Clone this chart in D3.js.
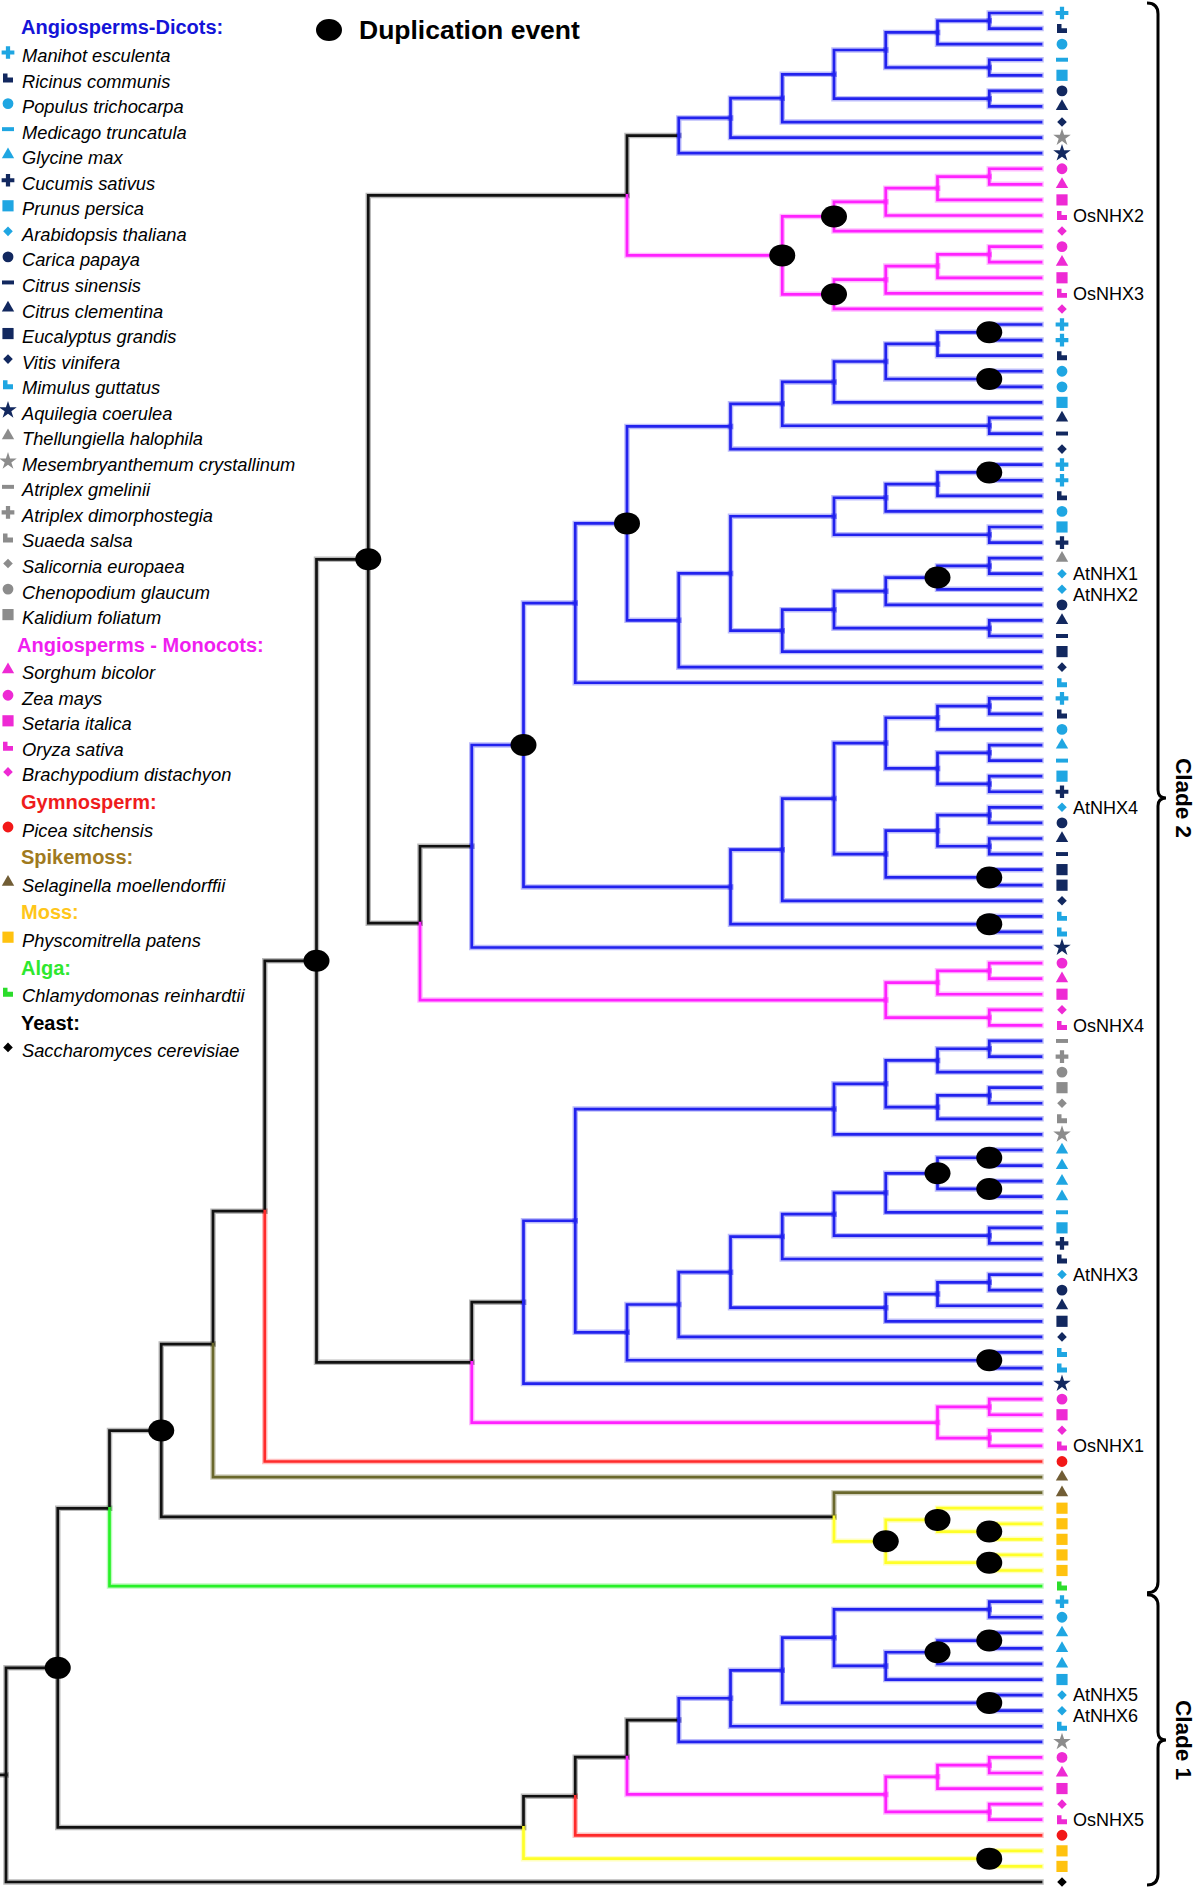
<!DOCTYPE html>
<html><head><meta charset="utf-8">
<script src="https://cdn.jsdelivr.net/npm/d3@7"></script>
<style>body{margin:0;background:#fff}svg{display:block}</style>
</head><body>
<svg id="c" width="1200" height="1892"></svg>
<script>
// ---------- DATA ----------
// Topology pieces (Newick). Tip numbers index tipSpecies (1-based).
// '*' marks a duplication event on the node, 'k' marks a black stem.
const nwTopDicots  = "(((((((1,2),3),(4,5)),(6,7)),8),9),10)k";
const nwMonocotsA  = "(((((11,12),13),14),15)*,((((16,17),18),19),20)*)*";
const nwDicotsB1   = "((((((21,22)*,23),(24,25)*),26),(27,28)),29)";
const nwDicotsB2   = "((((((30,31)*,32),33),(34,35)),(((((36,37),38)*,39),(40,41)),42)),43)";
const nwDicotsC    = "((((((45,46),47),((48,49),(50,51))),(((52,53),(54,55)),(56,57)*)),58),(59,60)*)";
const nwMonocotsB  = "(((62,63),64),(65,66))";
const nwHalophytes = "((((67,68),69),((70,71),72)),73)";
const nwDicotsD    = "((((((((74,75)*,(76,77)*)*,78),(79,80)),81),(((82,83),84),85)),86),(87,88)*)";
const nwMonocotsC  = "((90,91),(92,93))";
const nwMoss       = "(96,((97,(98,99)*)*,(100,101)*)*)";
const nwClade1     = "((((((((103,104),(((105,106)*,107)*,108)),(109,110)*),111),112)k,(((113,114),115),(116,117))),118),(119,120)*)";

const tipSpecies = [
  "Mes","Rco","Ptr","Mtr","Ppe","Cpa","Ccl","Vvi","Mcr","Aco",
  "Zma","Sbi","Sit","Osa","Bdi","Zma","Sbi","Sit","Osa","Bdi",
  "Mes","Mes","Rco","Ptr","Ptr","Ppe","Ccl","Csi","Vvi",
  "Mes","Mes","Rco","Ptr","Ppe","Csa","Tha","Ath","Ath","Cpa","Ccl","Csi","Egr","Vvi","Mgu",
  "Mes","Rco","Ptr","Gma","Mtr","Ppe","Csa","Ath","Cpa","Ccl","Csi","Egr","Egr","Vvi","Mgu","Mgu","Aco",
  "Zma","Sbi","Sit","Bdi","Osa",
  "Agm","Adi","Cgl","Kfo","Seu","Ssa","Mcr",
  "Gma","Gma","Gma","Gma","Mtr","Ppe","Csa","Rco","Ath","Cpa","Ccl","Egr","Vvi","Mgu","Mgu","Aco",
  "Zma","Sit","Bdi","Osa","Psi","Smo","Smo","Ppa","Ppa","Ppa","Ppa","Ppa","Cre",
  "Mes","Ptr","Gma","Gma","Gma","Ppe","Ath","Ath","Mgu","Mcr","Zma","Sbi","Sit","Bdi","Osa","Psi","Ppa","Ppa","Sce"
];

const labelTips  = [14, 19, 37, 38, 52, 66, 82, 93, 109, 110, 117];
const labelTexts = ["OsNHX2","OsNHX3","AtNHX1","AtNHX2","AtNHX4","OsNHX4","AtNHX3","OsNHX1","AtNHX5","AtNHX6","OsNHX5"];

const speciesCodes  = ["Mes","Rco","Ptr","Mtr","Gma","Csa","Ppe","Ath","Cpa","Csi","Ccl","Egr","Vvi","Mgu","Aco","Tha","Mcr","Agm","Adi","Ssa","Seu","Cgl","Kfo",
                       "Sbi","Zma","Sit","Osa","Bdi","Psi","Smo","Ppa","Cre","Sce"];
const speciesNames  = ["Manihot esculenta","Ricinus communis","Populus trichocarpa","Medicago truncatula","Glycine max","Cucumis sativus","Prunus persica","Arabidopsis thaliana","Carica papaya","Citrus sinensis","Citrus clementina","Eucalyptus grandis","Vitis vinifera","Mimulus guttatus","Aquilegia coerulea","Thellungiella halophila","Mesembryanthemum crystallinum","Atriplex gmelinii","Atriplex dimorphostegia","Suaeda salsa","Salicornia europaea","Chenopodium glaucum","Kalidium foliatum",
                       "Sorghum bicolor","Zea mays","Setaria italica","Oryza sativa","Brachypodium distachyon","Picea sitchensis","Selaginella moellendorffii","Physcomitrella patens","Chlamydomonas reinhardtii","Saccharomyces cerevisiae"];
const speciesShapes = ["cross","L","circle","dash","triangle","cross","square","diamond","circle","dash","triangle","square","diamond","L","star","triangle","star","dash","cross","L","diamond","circle","square",
                       "triangle","circle","square","L","diamond","circle","triangle","square","L","diamond"];
const speciesShades = ["light","dark","light","light","light","dark","light","light","dark","dark","dark","dark","dark","light","dark","gray","gray","gray","gray","gray","gray","gray","gray",
                       "mag","mag","mag","mag","mag","red","olive","gold","green","black"];
const speciesGroups = [0,0,0,0,0,0,0,0,0,0,0,0,0,0,0,0,0,0,0,0,0,0,0, 1,1,1,1,1, 2,3,4,5,6];

const groupTitles      = ["Angiosperms-Dicots:","Angiosperms - Monocots:","Gymnosperm:","Spikemoss:","Moss:","Alga:","Yeast:"];
const groupTitleColors = ["#1414d8","#f01ef0","#ef1c1c","#a07a1e","#ffc61a","#2ee82e","#000000"];
const groupLineColors  = ["#2222ee","#ff22ff","#ff2a2a","#6a682c","#ffff28","#28f028","#111111"];

const shadeNames  = ["light","dark","gray","mag","red","olive","gold","green","black"];
const shadeColors = ["#1fa6e2","#12285f","#8c8c8c","#ee2ad4","#f21818","#715d35","#ffc20f","#2bdc2b","#000000"];

// ---------- HELPERS ----------
const FONT = "'Liberation Sans', Arial, sans-serif";
const shadeColor = s => shadeColors[shadeNames.indexOf(s)];
const spIdx = code => speciesCodes.indexOf(code);

function parseNewick(s) {
  let i = 0;
  function readLabel() { let l = ""; while (i < s.length && !"(),".includes(s[i])) l += s[i++]; return l; }
  function node() {
    if (s[i] === "(") {
      i++;
      const children = [node()];
      while (s[i] === ",") { i++; children.push(node()); }
      i++;
      return { children, label: readLabel() };
    }
    return { tip: +readLabel(), label: "" };
  }
  return node();
}

const symL = { draw(ctx, size) {
  const w = Math.sqrt(size), h = w * 0.9, x0 = -w / 2, y0 = -h / 2;
  ctx.moveTo(x0, y0); ctx.lineTo(x0 + w * 0.45, y0); ctx.lineTo(x0 + w * 0.45, y0 + h * 0.45);
  ctx.lineTo(x0 + w, y0 + h * 0.45); ctx.lineTo(x0 + w, y0 + h); ctx.lineTo(x0, y0 + h); ctx.closePath();
}};
const symDash = { draw(ctx, size) { const w = Math.sqrt(size) * 1.2, h = w * 0.33; ctx.rect(-w / 2, -h / 2, w, h); } };
const symDiamond = { draw(ctx, size) { const r = Math.sqrt(size / 2); ctx.moveTo(0, -r); ctx.lineTo(r, 0); ctx.lineTo(0, r); ctx.lineTo(-r, 0); ctx.closePath(); } };
const shapeTypes = { cross: d3.symbolCross, L: symL, circle: d3.symbolCircle, dash: symDash, triangle: d3.symbolTriangle,
                     square: d3.symbolSquare, diamond: symDiamond, star: d3.symbolStar };
const shapeSizes = { cross: 90, L: 100, circle: 92, dash: 100, triangle: 66, square: 125, diamond: 46, star: 95 };
const symbolPath = shape => d3.symbol().type(shapeTypes[shape]).size(shapeSizes[shape])();

// ---------- TREE ----------
const nwB   = `((${nwDicotsB1},${nwDicotsB2})*,44)`;
const nwD   = `((${nwB},${nwDicotsC})*,61)k`;
const nwE   = `(${nwD},${nwMonocotsB})`;
const nwA   = `(${nwTopDicots},${nwMonocotsA})`;
const nwH13 = `(${nwA},${nwE})*`;
const nwF   = `(((${nwHalophytes},${nwDicotsD}),89)k,${nwMonocotsC})`;
const nwH14 = `(${nwH13},${nwF})*`;
const nwRoot = `((((((${nwH14},94),95),${nwMoss})*,102),${nwClade1})*,121)`;

const root = d3.hierarchy(parseNewick(nwRoot), d => d.children);
d3.cluster().size([1, 1]).separation(() => 1)(root);

const nTips = tipSpecies.length;
const tipStep = (1882 - 13) / (nTips - 1);
const yPos = d3.scaleLinear().domain([0, 1]).range([13 - tipStep / 2, 1882 + tipStep / 2]);
const xPos = d3.scaleLinear().domain([0, 1]).range([6, 1041]);
const BLACK = "#111111";

root.eachAfter(n => {
  if (!n.children) {
    n.sp = spIdx(tipSpecies[n.data.tip - 1]);
    n.group = speciesGroups[n.sp];
    n.color = groupLineColors[n.group];
  } else {
    const groups = new Set(n.leaves().map(l => l.group));
    n.color = (n.data.label.includes("k") || groups.size > 1) ? BLACK : groupLineColors[[...groups][0]];
  }
});

const svg = d3.select("#c");
const linkPath = l => `M${xPos(l.source.y)},${yPos(l.source.x)}V${yPos(l.target.x)}H${xPos(l.target.y)}`;
const links = root.links();

const gHalo = svg.append("g").attr("fill", "none").attr("stroke-linecap", "square");
gHalo.selectAll("path").data(links).join("path")
  .attr("d", linkPath)
  .attr("stroke", d => d.target.color === BLACK ? "#808080" : d.target.color)
  .attr("stroke-opacity", d => d.target.color === BLACK ? 0.55 : 0.3)
  .attr("stroke-width", 5.5);
gHalo.append("path").attr("d", `M0,${yPos(root.x)}H${xPos(root.y)}`)
  .attr("stroke", "#808080").attr("stroke-opacity", 0.55).attr("stroke-width", 5.5);

const gCore = svg.append("g").attr("fill", "none").attr("stroke-linecap", "square");
gCore.selectAll("path").data(links).join("path")
  .attr("d", linkPath)
  .attr("stroke", d => d.target.color)
  .attr("stroke-width", 2.7);
gCore.append("path").attr("d", `M0,${yPos(root.x)}H${xPos(root.y)}`)
  .attr("stroke", BLACK).attr("stroke-width", 2.7);

// duplication events
svg.append("g").selectAll("ellipse")
  .data(root.descendants().filter(n => n.children && n.data.label.includes("*")))
  .join("ellipse")
  .attr("cx", d => xPos(d.y)).attr("cy", d => yPos(d.x))
  .attr("rx", 13).attr("ry", 11).attr("fill", "#000");

// tip symbols
const leaves = root.leaves();
svg.append("g").selectAll("path").data(leaves).join("path")
  .attr("transform", d => `translate(1062,${yPos(d.x)})`)
  .attr("d", d => symbolPath(speciesShapes[d.sp]))
  .attr("fill", d => shadeColor(speciesShades[d.sp]));

// tip labels
svg.append("g").selectAll("text").data(labelTips).join("text")
  .attr("x", 1073)
  .attr("y", (t, i) => {
    const leaf = leaves[t - 1];
    const nudge = (i > 0 && labelTips[i - 1] === t - 1) ? 5 : 0;
    return yPos(leaf.x) + nudge;
  })
  .attr("dy", "0.35em")
  .attr("font-family", FONT).attr("font-size", 18).attr("fill", "#000")
  .text((t, i) => labelTexts[i]);

// clade braces
function brace(x0, y1, y2, ym) {
  const w = 11, c = 8;
  return `M${x0 - w},${y1} Q${x0},${y1} ${x0},${y1 + w} L${x0},${ym - c} Q${x0},${ym} ${x0 + c},${ym} Q${x0},${ym} ${x0},${ym + c} L${x0},${y2 - w} Q${x0},${y2} ${x0 - w},${y2}`;
}
const cladeNames = ["Clade 2", "Clade 1"];
const cladeFirstTip = [1, 103];
const cladeLastTip = [102, 121];
cladeNames.forEach((name, i) => {
  const yTop = i === 0 ? 3 : (yPos(leaves[cladeFirstTip[i] - 1].x) + yPos(leaves[cladeFirstTip[i] - 2].x)) / 2 + 1;
  const yBot = i === 0 ? (yPos(leaves[cladeLastTip[i] - 1].x) + yPos(leaves[cladeLastTip[i]].x)) / 2 - 1 : 1885;
  const ym = (yTop + yBot) / 2;
  svg.append("path").attr("d", brace(1158, yTop, yBot, ym))
    .attr("fill", "none").attr("stroke", "#000").attr("stroke-width", 3);
  svg.append("text").attr("transform", `translate(1176,${ym}) rotate(90)`)
    .attr("text-anchor", "middle")
    .attr("font-family", FONT).attr("font-weight", "bold").attr("font-size", 22.5).attr("fill", "#000")
    .text(name);
});

// duplication legend
svg.append("ellipse").attr("cx", 329).attr("cy", 30).attr("rx", 13).attr("ry", 11).attr("fill", "#000");
svg.append("text").attr("x", 359).attr("y", 39)
  .attr("font-family", FONT).attr("font-weight", "bold").attr("font-size", 26.5).attr("fill", "#000")
  .text("Duplication event");

// species legend
const gLeg = svg.append("g");
let ly = 0;
groupTitles.forEach((title, g) => {
  ly += g === 0 ? 34 : 27.8;
  gLeg.append("text").attr("x", g === 1 ? 17 : 21).attr("y", ly)
    .attr("font-family", FONT).attr("font-weight", "bold").attr("font-size", 20)
    .attr("fill", groupTitleColors[g]).text(title);
  const members = speciesCodes.map((c, i) => i).filter(i => speciesGroups[i] === g);
  const order = g === 1 ? ["Sbi","Zma","Sit","Osa","Bdi"].map(spIdx) : members;
  order.forEach((sp, k) => {
    ly += k === 0 ? (g === 0 ? 28 : 27.3) : 25.55;
    gLeg.append("path").attr("transform", `translate(8,${ly - 9.5})`)
      .attr("d", symbolPath(speciesShapes[sp])).attr("fill", shadeColor(speciesShades[sp]));
    gLeg.append("text").attr("x", 22).attr("y", ly)
      .attr("font-family", FONT).attr("font-style", "italic").attr("font-size", 18.3)
      .attr("fill", "#000").text(speciesNames[sp]);
  });
});
</script>
</body></html>
